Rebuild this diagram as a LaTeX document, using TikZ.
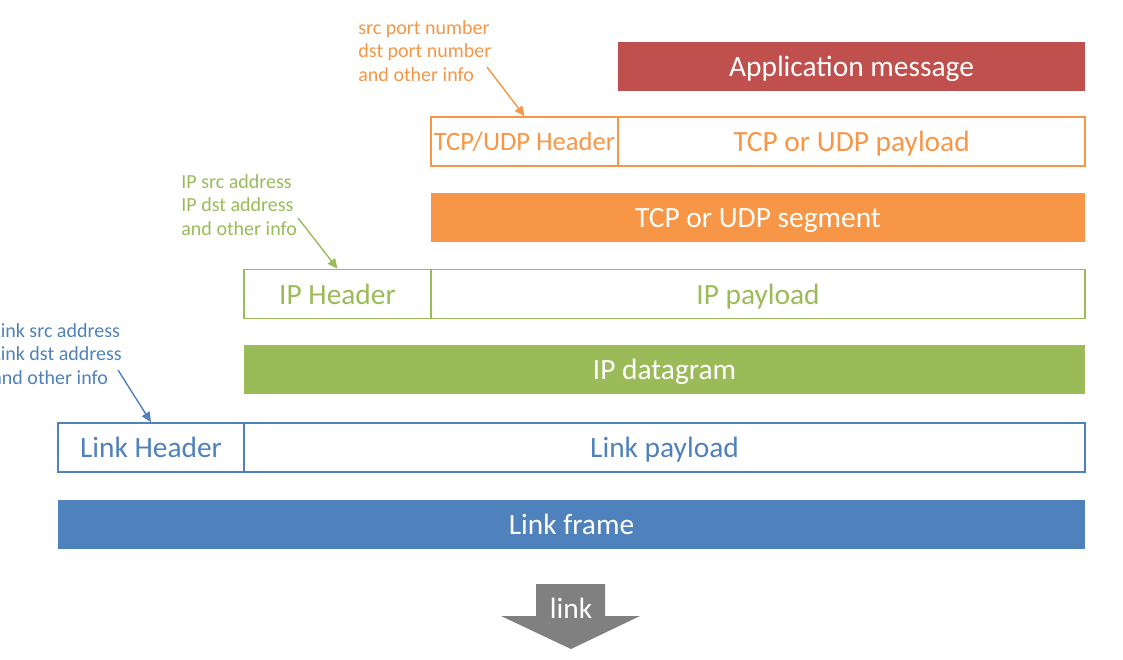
\documentclass[tikz,border=0pt]{standalone}
\usepackage{fontspec}
\setmainfont{Carlito}
\usetikzlibrary{arrows.meta,positioning}

\definecolor{appred}{HTML}{C0504D}
\definecolor{tcporange}{HTML}{F79646}
\definecolor{ipgreen}{HTML}{9BBB59}
\definecolor{linkblue}{HTML}{4F81BD}
\definecolor{downgray}{HTML}{808080}

\tikzset{
    layerbox/.style={rectangle, inner sep=0pt, minimum height=24.5pt, text depth=0pt, font=\fontsize{14.7}{17}\selectfont},
    fullbar/.style={layerbox, fill=#1, text=white},
    outlined/.style={layerbox, draw=#1, line width=0.8pt, text=#1},
    note/.style={inner sep=0pt, align=left, anchor=west, text=#1, font=\fontsize{10}{11.75}\selectfont},
    pointer/.style={draw=#1, line width=0.7pt, -{Triangle[length=5pt,width=4.5pt]}}
}

\begin{document}
\begin{tikzpicture}[x=0.5pt, y=-0.5pt]
    \useasboundingbox (0,0) rectangle (1123,659);

    % Application layer
    \node [fullbar=appred, minimum width=233.5pt] (app) at (851.5,66) {Application message};

    % Transport layer
    \node [outlined=tcporange, minimum width=93.5pt, font=\fontsize{13.3}{16}\selectfont] (tcphdr) at (524.5,141.5) {TCP/UDP Header};
    \node [outlined=tcporange, minimum width=233.5pt] (tcppay) at (851.5,141.5) {TCP or UDP payload};
    \node [fullbar=tcporange, minimum width=327pt] (segment) at (758,217.5) {TCP or UDP segment};

    % Network layer
    \node [outlined=ipgreen, minimum width=93.5pt] (iphdr) at (337.5,294) {IP Header};
    \node [outlined=ipgreen, minimum width=327pt] (ippay) at (758,294) {IP payload};
    \node [fullbar=ipgreen, minimum width=420.5pt] (datagram) at (664.5,369.5) {IP datagram};

    % Link layer
    \node [outlined=linkblue, minimum width=93pt] (linkhdr) at (151,447.5) {Link Header};
    \node [outlined=linkblue, minimum width=420.5pt] (linkpay) at (664.5,447.5) {Link payload};
    \node [fullbar=linkblue, minimum width=513.5pt] (frame) at (571.5,524.5) {Link frame};

    % Header notes
    \node [note=tcporange] (tcpnote) at (358,51) {src port number\\dst port number\\and other info};
    \node [note=ipgreen] (ipnote) at (181,205) {IP src address\\IP dst address\\and other info};
    \node [note=linkblue] (linknote) at (-8,354) {Link src address\\Link dst address\\and other info};

    \coordinate (tcpfrom) at (487,67);
    \coordinate (ipfrom) at (298,218);
    \coordinate (linkfrom) at (118,370);
    \draw [pointer=tcporange] (tcpfrom) -- (tcphdr.north);
    \draw [pointer=ipgreen] (ipfrom) -- (iphdr.north);
    \draw [pointer=linkblue] (linkfrom) -- (linkhdr.north);

    % Down arrow
    \fill [downgray] (536,584) -- (605,584) -- (605,616) -- (640,616) -- (571,649)
        -- (501,616) -- (536,616) -- cycle;
    \node [text=white, text depth=0pt, font=\fontsize{14.7}{17}\selectfont] (down) at (571,608) {link};
\end{tikzpicture}
\end{document}
